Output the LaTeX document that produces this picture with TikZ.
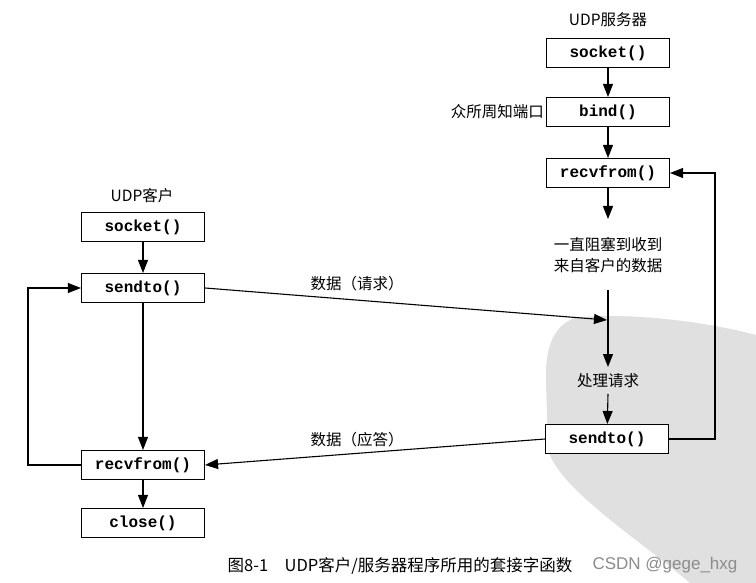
\documentclass[tikz,border=0pt]{standalone}
\usepackage{fontspec}
\setmainfont{Liberation Serif}
\setmonofont{Liberation Mono}
\newfontfamily\cjk{Noto Sans CJK SC}
\newfontfamily\csdnfont{Liberation Sans}
\usetikzlibrary{arrows.meta}
\begin{document}
\begin{tikzpicture}[x=1pt,y=-1pt,
  fbox/.style={draw, fill=white, line width=1.1pt, minimum width=123pt, minimum height=29pt, inner sep=0pt, font=\fontsize{16}{18}\ttfamily\bfseries},
  lbl/.style={font=\fontsize{15.5}{21}\cjk, align=center, inner sep=0pt},
  conn/.style={line width=1.1pt, -{Triangle[length=13pt,width=10pt]}},
  plain/.style={line width=1.1pt}]
\useasboundingbox (0,0) rectangle (756,583);
\fill[white] (0,0) rectangle (756,583);
% watermark blob
\fill[black!12] (575,318) .. controls (555,325) and (545,345) .. (546,380) -- (548,450) .. controls (560,490) and (640,540) .. (690,583) -- (756,583) -- (756,335) .. controls (700,320) and (620,312) .. (575,318);

% server column
\node[lbl] (stitle) at (608,20) {UDP服务器};
\node[fbox] (ssock) at (608,53) {socket()};
\node[fbox] (sbind) at (608,112) {bind()};
\node[lbl, anchor=east] (port) at (544,112) {众所周知端口};
\node[fbox] (srecv) at (608,173) {recvfrom()};
\coordinate (blk1) at (608,219);
\node[lbl] (block) at (608,255) {一直阻塞到收到\\来自客户的数据};
\coordinate (blk2) at (608,290);
\coordinate (req) at (607,320);
\coordinate (pr1) at (608,367);
\node[lbl] (proc) at (608,381) {处理请求};
\coordinate (pr2) at (608,394);
\node[fbox] (ssend) at (607,439) {sendto()};
\coordinate (rx) at (715,300);

% client column
\node[lbl] (ctitle) at (142,196) {UDP客户};
\node[fbox] (csock) at (143,227) {socket()};
\node[fbox] (csend) at (143,288) {sendto()};
\node[fbox] (crecv) at (143,465) {recvfrom()};
\node[fbox] (cclose) at (143,523) {close()};
\coordinate (lx) at (28,300);

% server connectors
\draw[conn] (ssock) -- (sbind);
\draw[conn] (sbind) -- (srecv);
\draw[conn] (srecv) -- (blk1);
\draw[conn] (blk2) -- (pr1);
\draw[conn] (pr2) -- (ssend);
\draw[conn] (ssend.east) -- (ssend.east -| rx) |- (srecv.east);

% client connectors
\draw[conn] (csock) -- (csend);
\draw[conn] (csend) -- (crecv);
\draw[conn] (crecv) -- (cclose);
\draw[conn] (crecv.west) -- (crecv.west -| lx) |- (csend.west);

% data exchange
\draw[conn] (csend.east) -- (req);
\node[lbl] (reqlbl) at (357,284) {数据（请求）};
\draw[conn] (ssend.west) -- (crecv.east);
\node[lbl] (replbl) at (357,440) {数据（应答）};

% caption
\node[lbl, font=\fontsize{16.5}{20}\cjk] (cap) at (400,566) {图8-1\hspace{1em}UDP客户/服务器程序所用的套接字函数};
\node[inner sep=0pt, text=black!45, font=\fontsize{17}{20}\csdnfont] (csdn) at (665,565) {CSDN @gege\_hxg};
\end{tikzpicture}
\end{document}
